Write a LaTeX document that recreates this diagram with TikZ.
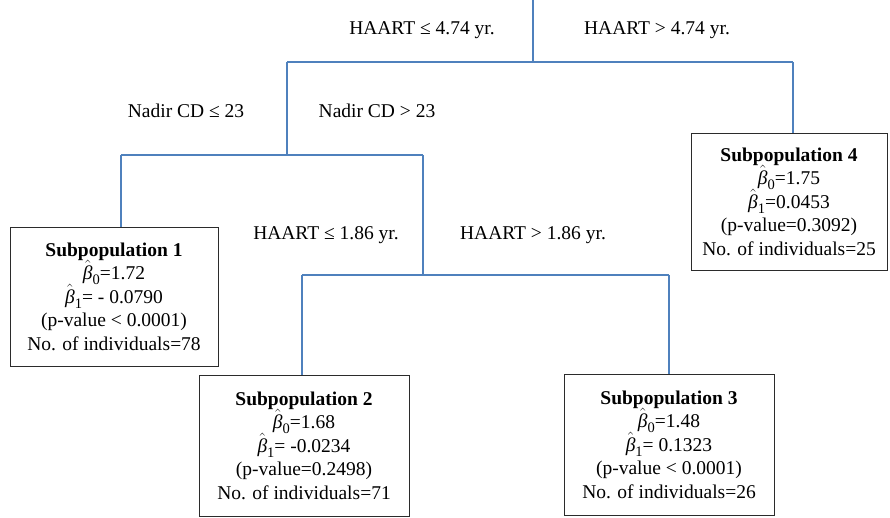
\documentclass[tikz,border=0pt]{standalone}
\usepackage{fontspec}
\setmainfont{Liberation Serif}
\newcommand{\bh}[1]{\smash{$\hat{\mbox{\itshape β}}$}\raisebox{-0.25em}{\fontsize{14.5}{14.5}\selectfont #1}}
\definecolor{connblue}{HTML}{4F81BD}
\definecolor{boxgray}{HTML}{2B2B2B}
\tikzset{
  conn/.style={draw=connblue, line width=1.8pt},
  subbox/.style={draw=boxgray, line width=0.9pt, rectangle, align=center, inner sep=0pt,
    font=\fontsize{19.5}{23.5}\selectfont},
  cond/.style={anchor=base, inner sep=0pt, font=\fontsize{19.5}{23.5}\selectfont}
}
\begin{document}
\begin{tikzpicture}[x=1pt, y=-1pt]
\useasboundingbox (0,0) rectangle (890,517);

% boxes
\node[subbox, minimum width=208pt, minimum height=139pt] (b1) at (114,296.5)
  {\textbf{Subpopulation 1}\\ \bh{0}=1.72\\ \bh{1}= - 0.0790\\ (p-value < 0.0001)\\ No. of individuals=78};
\node[subbox, minimum width=210pt, minimum height=141pt] (b2) at (304,445.5)
  {\textbf{Subpopulation 2}\\ \bh{0}=1.68\\ \bh{1}= -0.0234\\ (p-value=0.2498)\\ No. of individuals=71};
\node[subbox, minimum width=210pt, minimum height=141pt] (b3) at (669,444.5)
  {\textbf{Subpopulation 3}\\ \bh{0}=1.48\\ \bh{1}= 0.1323\\ (p-value < 0.0001)\\ No. of individuals=26};
\node[subbox, minimum width=196pt, minimum height=137pt] (b4) at (789,201.5)
  {\textbf{Subpopulation 4}\\ \bh{0}=1.75\\ \bh{1}=0.0453\\ (p-value=0.3092)\\ No. of individuals=25};

% split coordinates
\coordinate (r0) at (533,0);
\coordinate (s1) at (533,62);
\coordinate (s1l) at (287,62);
\coordinate (s1r) at (793,62);
\coordinate (s2) at (287,155);
\coordinate (s2l) at (121,155);
\coordinate (s2r) at (423,155);
\coordinate (s3) at (423,275);
\coordinate (s3l) at (302,275);
\coordinate (s3r) at (669,275);

% connectors
\draw[conn] (r0) -- (s1);
\draw[conn] (s1l) -- (s1r);
\draw[conn] (s1l) -- (s2);
\draw[conn] (s1r) -- (s1r |- b4.north);
\draw[conn] (s2l) -- (s2r);
\draw[conn] (s2l) -- (s2l |- b1.north);
\draw[conn] (s2r) -- (s3);
\draw[conn] (s3l) -- (s3r);
\draw[conn] (s3l) -- (s3l |- b2.north);
\draw[conn] (s3r) -- (s3r |- b3.north);

% condition labels
\node[cond] (c1) at (422,34) {HAART ≤ 4.74 yr.};
\node[cond] (c2) at (657,34) {HAART > 4.74 yr.};
\node[cond] (c3) at (186,117) {Nadir CD ≤ 23};
\node[cond] (c4) at (377,117) {Nadir CD > 23};
\node[cond] (c5) at (326,239) {HAART ≤ 1.86 yr.};
\node[cond] (c6) at (533,239) {HAART > 1.86 yr.};
\end{tikzpicture}
\end{document}
